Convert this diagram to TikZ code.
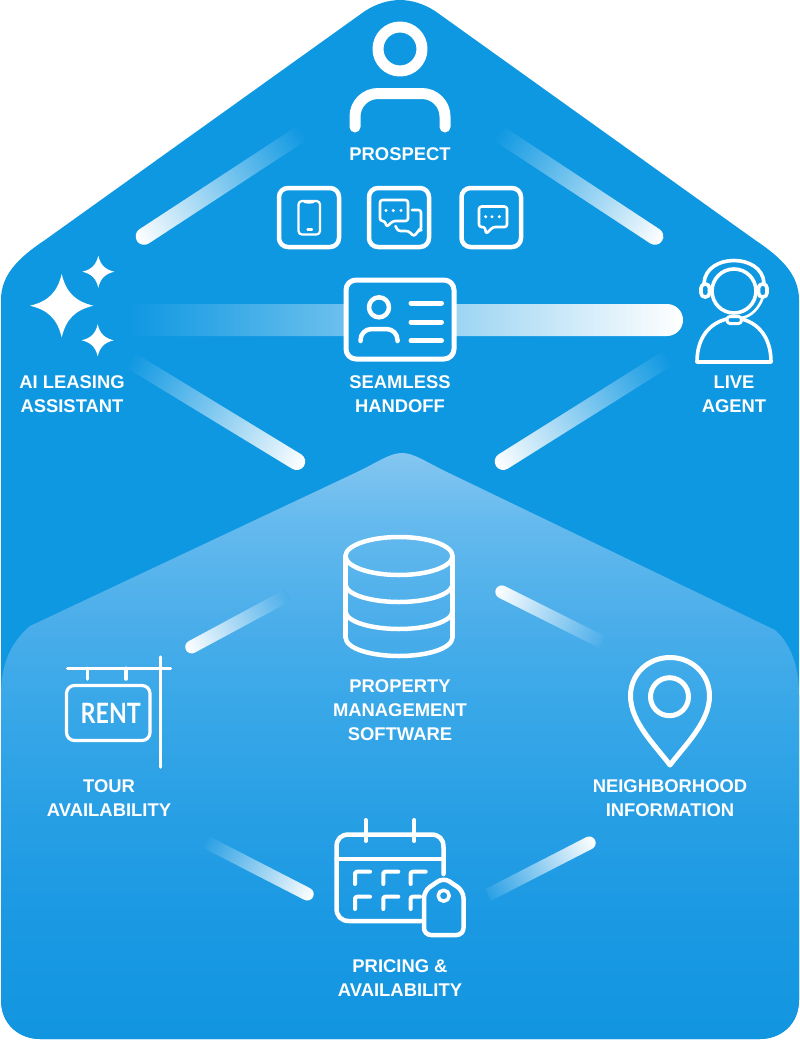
\documentclass[tikz,border=0pt]{standalone}
\usepackage{fontspec}
\setmainfont{Liberation Sans}
\newfontfamily\rentfont{Lato}
\usetikzlibrary{calc}
\definecolor{bgb}{HTML}{0F98E2}
\definecolor{hA}{HTML}{84C6F1}
\definecolor{hB}{HTML}{65BAEE}
\definecolor{hC}{HTML}{4BAEEA}
\definecolor{hD}{HTML}{39A8E8}
\definecolor{hE}{HTML}{2AA0E5}
\definecolor{hF}{HTML}{1C9AE3}
\definecolor{hG}{HTML}{1295E0}
\pgfdeclareverticalshading{innerhouse}{100bp}{
 color(0bp)=(hG); color(25bp)=(hG); color(36.86bp)=(hF); color(45.4bp)=(hE);
 color(53.9bp)=(hD); color(60.75bp)=(hC); color(69.28bp)=(hB); color(75bp)=(hA); color(100bp)=(hA)}
\tikzset{
 lbl/.style={text=white,align=center,font=\fontsize{18.4}{24}\selectfont\bfseries,inner sep=0pt},
 ic/.style={draw=white,line width=#1,line cap=round,line join=round},
 ic/.default=4.5pt
}
% gbar: fade end, bright end, width, colour at fade end, colour at bright end
\newcommand{\gbar}[5]{%
 \path let \p1=($(#2)-(#1)$),\n1={atan2(\y1,\x1)},\n2={veclen(\x1,\y1)} in
   \pgfextra{\xdef\barang{\n1}\xdef\barlen{\n2}};
 \shade[transform canvas={shift={(#1)},rotate=\barang},left color=#4,right color=#5]
   (0pt,-#3/2) -- ({\barlen-#3/2},-#3/2) arc[start angle=-90,end angle=90,radius=#3/2] -- (0pt,#3/2) -- cycle;
}
\newcommand{\sparkle}[3]{%
 \fill[white] (#1,#2-#3) .. controls (#1+.14*#3,#2-.42*#3) and (#1+.42*#3,#2-.14*#3) .. (#1+#3,#2)
  .. controls (#1+.42*#3,#2+.14*#3) and (#1+.14*#3,#2+.42*#3) .. (#1,#2+#3)
  .. controls (#1-.14*#3,#2+.42*#3) and (#1-.42*#3,#2+.14*#3) .. (#1-#3,#2)
  .. controls (#1-.42*#3,#2-.14*#3) and (#1-.14*#3,#2-.42*#3) .. (#1,#2-#3) -- cycle;
}
\begin{document}
\begin{tikzpicture}[x=1pt,y=-1pt]
\useasboundingbox (0,0) rectangle (800,1042);
% outer house
\fill[bgb] (1,300) .. controls (1,275) and (18,258) .. (45,240) -- (365,11)
  .. controls (388,-3.6) and (412,-3.6) .. (435,11) -- (755,240)
  .. controls (782,258) and (799,275) .. (799,300) -- (799,1000)
  .. controls (799,1025) and (780,1039) .. (760,1039) -- (40,1039)
  .. controls (20,1039) and (1,1025) .. (1,1000) -- cycle;
% inner house
\shade[shading=innerhouse] (1,695) .. controls (1,665) and (10,643) .. (30,626) -- (355,473)
  .. controls (380,461) and (390,453) .. (402,453)
  .. controls (414,453) and (424,461) .. (449,473) -- (775,630)
  .. controls (790,643) and (799,665) .. (799,695) -- (799,1000)
  .. controls (799,1025) and (780,1039) .. (760,1039) -- (40,1039)
  .. controls (20,1039) and (1,1025) .. (1,1000) -- cycle;
% connector ends
\coordinate (tlF) at (302,133); \coordinate (tlB) at (137,241);
\coordinate (trF) at (498,133); \coordinate (trB) at (662,241);
\coordinate (hF)  at (130,320); \coordinate (hB)  at (683,320);
\coordinate (mlF) at (130,360); \coordinate (mlB) at (304,466);
\coordinate (mrF) at (668,358); \coordinate (mrB) at (496,466);
\coordinate (plF) at (288,595); \coordinate (plB) at (186,650);
\coordinate (prF) at (602,642); \coordinate (prB) at (496,589);
\coordinate (blF) at (206,842); \coordinate (blB) at (313,897);
\coordinate (brF) at (488,895); \coordinate (brB) at (595,840);
\gbar{tlF}{tlB}{17pt}{bgb}{white}
\gbar{trF}{trB}{17pt}{bgb}{white}
\gbar{hF}{hB}{32pt}{bgb}{white}
\gbar{mlF}{mlB}{17pt}{bgb}{white}
\gbar{mrF}{mrB}{17pt}{bgb}{white}
\gbar{plF}{plB}{13pt}{hC}{white}
\gbar{prF}{prB}{13pt}{hC}{white}
\gbar{blF}{blB}{13pt}{hE}{white}
\gbar{brF}{brB}{13pt}{hE}{white}
% prospect
\draw[ic=11pt] (400,49) circle[radius=22];
\draw[ic=11pt,rounded corners=23pt] (355,127) -- (355,93.5) -- (445,93.5) -- (445,127);
\node[lbl] (prospect) at (400,154) {PROSPECT};
% channel boxes
\draw[ic,rounded corners=9pt] (279,188) rectangle (339,247);
\draw[ic,rounded corners=9pt] (369,188) rectangle (429,247);
\draw[ic,rounded corners=9pt] (461.5,188) rectangle (521,247);
% phone
\draw[ic=2.2pt,rounded corners=3.5pt] (298.5,201) rectangle (320,234.5);
\draw[ic=1.6pt] (303,201) .. controls (304,203.5) and (314,203.5) .. (315,201);
\draw[ic=2.2pt] (307.5,229.5) -- (312,229.5);
% two bubbles
\draw[ic=2.6pt,rounded corners=2.5pt] (380,200) -- (408,200) -- (408,221) -- (393,221) -- (386.5,227) -- (385,221) -- (380,221) -- cycle;
\fill[white] (386,210.5) circle[radius=1.7] (393.3,210.5) circle[radius=1.7] (401,210.5) circle[radius=1.7];
\draw[ic=2.6pt,rounded corners=2.5pt] (412,210) -- (421,210) -- (421,230) -- (419,230) -- (414,236.5) -- (408.5,231) -- (398,231) -- (395.5,226);
% single bubble
\draw[ic=2.6pt,rounded corners=2.5pt] (479,206.5) -- (507,206.5) -- (507,227) -- (493,227) -- (486,234) -- (485,227) -- (479,227) -- cycle;
\fill[white] (485.7,216.7) circle[radius=1.7] (492,216.7) circle[radius=1.7] (499.3,216.7) circle[radius=1.7];
% AI
\sparkle{61.7}{305.7}{31.7}
\sparkle{98.3}{271.7}{16}
\sparkle{97.7}{340.3}{16}
\node[lbl] (ai) at (72,394) {AI LEASING\\ASSISTANT};
% card
\draw[ic=5pt,fill=bgb,rounded corners=10pt] (346,280) rectangle (454,359);
\draw[ic=4.5pt] (379,307.3) circle[radius=10];
\draw[ic=4.5pt,rounded corners=11pt] (360.5,341) -- (360.5,329) -- (397.5,329) -- (397.5,341);
\draw[ic=5pt] (411,303) -- (441.5,303) (411,322) -- (441.5,322) (411,340.7) -- (441.5,340.7);
\node[lbl] (handoff) at (400,394) {SEAMLESS\\HANDOFF};
% agent
\draw[ic=3.6pt] (734,291) circle[radius=22];
\draw[ic=3.6pt] (704,283) .. controls (706,253) and (762,253) .. (764,283);
\draw[ic=3.6pt,rounded corners=4pt] (701,284) rectangle (709.5,297);
\draw[ic=3.6pt,rounded corners=4pt] (758.5,284) rectangle (767,297);
\draw[ic=3pt,rounded corners=3pt] (727,316.5) rectangle (741.5,323.5);
\draw[ic=2.6pt] (741.5,318) .. controls (752,316) and (759,308) .. (763,297);
\draw[ic=3.6pt] (727,319) .. controls (710,323) and (697,337) .. (697,362) -- (771,362)
  .. controls (771,337) and (758,323) .. (741.5,319);
\node[lbl] (agent) at (734,394) {LIVE\\AGENT};
% database
\draw[ic=4.5pt] (399,556) ellipse[x radius=53.5,y radius=19];
\draw[ic=4.5pt] (345.5,556) -- (345.5,637) (452.5,556) -- (452.5,637);
\draw[ic=4.5pt] (345.5,637) .. controls (345.5,649) and (372,656) .. (399,656) .. controls (426,656) and (452.5,649) .. (452.5,637);
\draw[ic=4.5pt] (345.5,611) .. controls (345.5,622) and (372,629) .. (399,629) .. controls (426,629) and (452.5,622) .. (452.5,611);
\draw[ic=4.5pt] (345.5,584) .. controls (345.5,595) and (372,602) .. (399,602) .. controls (426,602) and (452.5,595) .. (452.5,584);
\node[lbl] (pms) at (400,710) {PROPERTY\\MANAGEMENT\\SOFTWARE};
% rent
\draw[ic=3.5pt] (160.7,657) -- (160.7,767) (67.5,668.3) -- (170.5,668.3);
\draw[ic=3.5pt] (87.7,668.3) -- (87.7,679) (126,668.3) -- (126,679);
\draw[ic=3.2pt,rounded corners=8pt] (66.5,685.5) rectangle (150,740.5);
\node[text=white,inner sep=0pt,font=\rentfont\bfseries\fontsize{28}{28}\selectfont] (rent) at (110.8,713) {\scalebox{.83}[1]{RENT}};
\node[lbl] (tour) at (109,798) {TOUR\\AVAILABILITY};
% pin
\draw[ic=5pt] (670,765) .. controls (655,745) and (630.5,722) .. (630.5,696)
  .. controls (630.5,674) and (648,657.5) .. (670,657.5)
  .. controls (692,657.5) and (709.5,674) .. (709.5,696)
  .. controls (709.5,722) and (685,745) .. (670,765) -- cycle;
\draw[ic=5pt] (669.5,696.7) circle[radius=19];
\node[lbl] (neigh) at (670,798) {NEIGHBORHOOD\\INFORMATION};
% calendar
\draw[ic=4.5pt] (443.5,874) -- (443.5,847) .. controls (443.5,839) and (439,834.5) .. (431,834.5) -- (349,834.5)
  .. controls (341,834.5) and (336.5,839) .. (336.5,847) -- (336.5,908) .. controls (336.5,916) and (341,921) .. (349,921) -- (421,921);
\draw[ic=4.5pt] (336.5,859) -- (443.5,859);
\draw[ic=4pt] (365.7,820) -- (365.7,841) (414.3,820) -- (414.3,841);
\foreach \cx in {355,383.3,410.7}{\draw[ic=4pt,rounded corners=2pt] (\cx,884) -- (\cx,871.7) -- (\cx+15,871.7);}
\foreach \cx in {355,383.3}{\draw[ic=4pt,rounded corners=2pt] (\cx,909) -- (\cx,896.7) -- (\cx+15,896.7);}
\draw[ic=4pt,rounded corners=2pt] (410.7,909) -- (410.7,896.7) -- (420,896.7);
\draw[ic=4.5pt,rounded corners=7pt] (443.6,877.5) -- (463.5,891) -- (463.5,935) -- (424,935) -- (424,891) -- cycle;
\draw[ic=3.5pt] (443.7,895.7) circle[radius=5.5];
\node[lbl] (pricing) at (400,978) {PRICING \&\\AVAILABILITY};
\end{tikzpicture}
\end{document}
